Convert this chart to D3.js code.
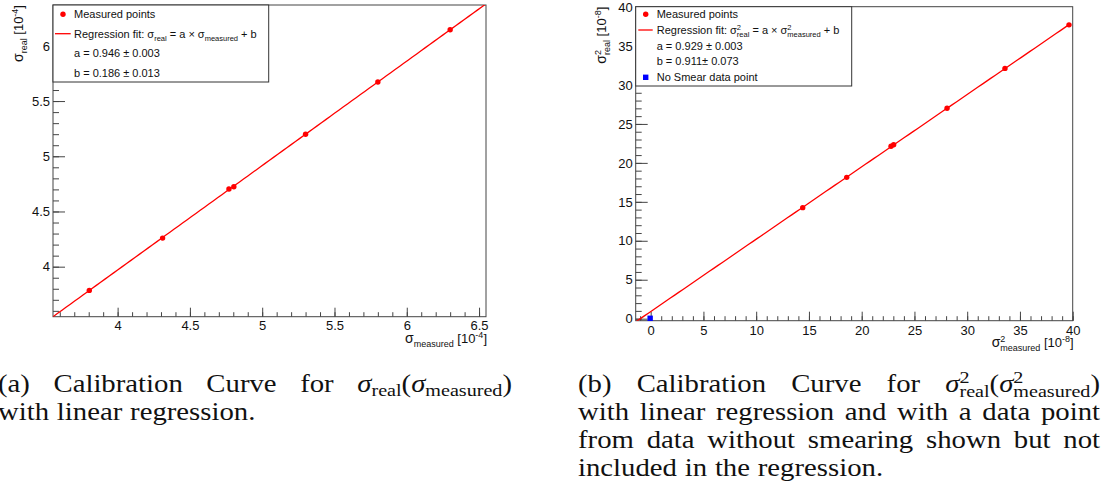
<!DOCTYPE html>
<html>
<head>
<meta charset="utf-8">
<script src="https://cdn.jsdelivr.net/npm/d3@7"></script>
<style>
  html, body { margin: 0; padding: 0; background: #fff; }
  svg { display: block; }
  svg text { white-space: pre; }
  .panel text { font-family: "Liberation Sans", Arial, sans-serif; fill: #111; }
  .caption text { font-family: "Liberation Serif", "Times New Roman", serif; fill: #111; }
</style>
</head>
<body>
<svg id="fig" width="1103" height="498"></svg>
<script>
// ---- data: sigma calibration (units 1e-4) ----
const SIGMA_MEASURED = [3.804, 4.311, 4.770, 4.804, 5.300, 5.800, 6.300];
const SIGMA_REAL     = [3.785, 4.259, 4.703, 4.724, 5.199, 5.672, 6.146];
const SIGMA_FIT      = [0.946, 0.186];           // a, b
const SIGMA_X_TICKS  = [4, 4.5, 5, 5.5, 6, 6.5];
const SIGMA_Y_TICKS  = [4, 4.5, 5, 5.5, 6];

// ---- data: sigma^2 calibration (units 1e-8) ----
const SIGMA2_MEASURED = [14.41, 18.58, 22.78, 23.03, 28.09, 33.58, 39.65];
const SIGMA2_REAL     = [14.25, 18.14, 22.14, 22.33, 27.01, 32.13, 37.72];
const SIGMA2_FIT      = [0.929, 0.911];          // a, b
const NOSMEAR_MEASURED = [-0.05];
const NOSMEAR_REAL     = [0.05];
const SIGMA2_TICKS    = [0, 5, 10, 15, 20, 25, 30, 35, 40];

const svg = d3.select("#fig");

// Lay out a run of text segments (sub/superscripts, stacked indices) inside g.
// Returns the total advance width.
function rich(g, segs) {
  let x = 0, prevStart = 0;
  segs.forEach(s => {
    const start = s.stack ? prevStart : x;
    const t = g.append("text")
      .attr("x", start)
      .attr("y", s.dy || 0)
      .style("font-size", s.size + "px")
      .text(s.t);
    if (s.italic) t.style("font-style", "italic");
    const w = t.node().getComputedTextLength();
    prevStart = start;
    x = Math.max(start + w, x);
  });
  return x;
}

function drawPanel(cfg) {
  const g = svg.append("g").attr("class", "panel");
  const x = d3.scaleLinear().domain(cfg.xDomain).range([cfg.left, cfg.right]);
  const y = d3.scaleLinear().domain(cfg.yDomain).range([cfg.bottom, cfg.top]);

  const clipId = "clip-" + cfg.id;
  g.append("clipPath").attr("id", clipId)
    .append("rect")
    .attr("x", cfg.left).attr("y", cfg.top)
    .attr("width", cfg.right - cfg.left).attr("height", cfg.bottom - cfg.top);

  // minor ticks
  g.append("g").attr("transform", `translate(0,${cfg.bottom})`)
    .call(d3.axisBottom(x).tickValues(cfg.xMinor).tickSize(-4.5).tickFormat(""))
    .call(a => a.select(".domain").remove())
    .call(a => a.selectAll("line").attr("stroke", "#444"));
  g.append("g").attr("transform", `translate(${cfg.left},0)`)
    .call(d3.axisLeft(y).tickValues(cfg.yMinor).tickSize(-6).tickFormat(""))
    .call(a => a.select(".domain").remove())
    .call(a => a.selectAll("line").attr("stroke", "#444"));

  // major ticks with labels
  g.append("g").attr("transform", `translate(0,${cfg.bottom})`)
    .call(d3.axisBottom(x).tickValues(cfg.xTicks).tickSize(-9).tickPadding(cfg.xPad).tickFormat(d => String(d)))
    .call(a => a.select(".domain").remove())
    .call(a => a.selectAll("line").attr("stroke", "#444"))
    .call(a => a.selectAll("text").attr("fill", "#111")
      .style("font-size", "13px").style("font-family", "Liberation Sans, Arial, sans-serif"));
  g.append("g").attr("transform", `translate(${cfg.left},0)`)
    .call(d3.axisLeft(y).tickValues(cfg.yTicks).tickSize(-12).tickPadding(3).tickFormat(d => String(d)))
    .call(a => a.select(".domain").remove())
    .call(a => a.selectAll("line").attr("stroke", "#444"))
    .call(a => a.selectAll("text").attr("fill", "#111")
      .style("font-size", "13px").style("font-family", "Liberation Sans, Arial, sans-serif"));

  // frame
  g.append("rect")
    .attr("x", cfg.left).attr("y", cfg.top)
    .attr("width", cfg.right - cfg.left).attr("height", cfg.bottom - cfg.top)
    .attr("fill", "none").attr("stroke", "#444").attr("stroke-width", 1);

  // regression line
  const [a, b] = cfg.fit;
  const fx = d3.range(0, 101).map(i => cfg.fitRange[0] + (cfg.fitRange[1] - cfg.fitRange[0]) * i / 100);
  g.append("path")
    .attr("clip-path", `url(#${clipId})`)
    .attr("d", d3.line().x(d => x(d)).y(d => y(a * d + b))(fx))
    .attr("fill", "none").attr("stroke", "#ff0000").attr("stroke-width", 1.3);

  // measured points
  g.append("g").selectAll("circle")
    .data(cfg.px.map((v, i) => [v, cfg.py[i]]))
    .join("circle")
    .attr("cx", d => x(d[0])).attr("cy", d => y(d[1]))
    .attr("r", 2.7).attr("fill", "#ff0000");

  // extra points (not fitted)
  if (cfg.qx) {
    g.append("g").selectAll("rect")
      .data(cfg.qx.map((v, i) => [v, cfg.qy[i]]))
      .join("rect")
      .attr("x", d => x(d[0]) - 2.7).attr("y", d => y(d[1]) - 2.7)
      .attr("width", 5.4).attr("height", 5.4).attr("fill", "#0000ff");
  }

  // axis titles
  const xt = g.append("g");
  const xtInner = xt.append("g");
  const wx = rich(xtInner, cfg.xTitle);
  xt.attr("transform", `translate(${cfg.right - wx + 1},${cfg.bottom + 26.5})`);

  const yt = g.append("g").attr("transform", `translate(${cfg.yTitleX},${cfg.top}) rotate(-90)`);
  const ytInner = yt.append("g");
  const wy = rich(ytInner, cfg.yTitle);
  ytInner.attr("transform", `translate(${-wy},0)`);

  // legend
  const L = cfg.legend;
  const lg = g.append("g");
  lg.append("rect")
    .attr("x", L.x0).attr("y", L.y0).attr("width", L.x1 - L.x0).attr("height", L.y1 - L.y0)
    .attr("fill", "#fff").attr("stroke", "#333").attr("stroke-width", 1);
  L.rows.forEach(r => {
    if (r.mark === "circle") {
      lg.append("circle").attr("cx", L.markX).attr("cy", r.cy).attr("r", 2.7).attr("fill", "#ff0000");
    } else if (r.mark === "line") {
      lg.append("line").attr("x1", L.lineX[0]).attr("x2", L.lineX[1])
        .attr("y1", r.cy).attr("y2", r.cy).attr("stroke", "#ff0000").attr("stroke-width", 1.3);
    } else if (r.mark === "square") {
      lg.append("rect").attr("x", L.markX - 2.7).attr("y", r.cy - 2.7)
        .attr("width", 5.4).attr("height", 5.4).attr("fill", "#0000ff");
    }
    const row = lg.append("g").attr("transform", `translate(${L.textX},${r.cy + 4})`);
    rich(row, r.segs);
  });
}

const T = (t, size = 11) => ({ t, size });
const SUB = (t, size = 7.5, dy = 3) => ({ t, size, dy });
const SUP = (t, size = 7.5, dy = -4) => ({ t, size, dy });
const STK = (t, size = 7.5, dy = 3) => ({ t, size, dy, stack: true });

// ---- panel (a) ----
drawPanel({
  id: "a",
  left: 53, right: 486, top: 5, bottom: 316.7,
  xDomain: [3.553, 6.548], yDomain: [3.547, 6.37],
  xTicks: SIGMA_X_TICKS, yTicks: SIGMA_Y_TICKS,
  xMinor: d3.range(36, 66).map(v => v / 10), yMinor: d3.range(36, 64).map(v => v / 10),
  xPad: 4,
  fit: SIGMA_FIT, fitRange: [3.553, 6.548],
  px: SIGMA_MEASURED, py: SIGMA_REAL,
  xTitle: [T("σ", 14), SUB("measured", 9, 4), T(" [10", 13), SUP("-4", 9, -5), T("]", 13)],
  yTitle: [T("σ", 14), SUB("real", 9, 4), T(" [10", 13), SUP("-4", 9, -5), T("]", 13)],
  yTitleX: 23,
  legend: {
    x0: 53, x1: 268.7, y0: 5, y1: 82,
    markX: 63, lineX: [55, 70.7], textX: 74,
    rows: [
      { cy: 14.3, mark: "circle", segs: [T("Measured points")] },
      { cy: 33.7, mark: "line", segs: [T("Regression fit: σ"), SUB("real"), T(" = a × σ"), SUB("measured"), T(" + b")] },
      { cy: 53.3, segs: [T("a = 0.946 ± 0.003")] },
      { cy: 72.7, segs: [T("b = 0.186 ± 0.013")] }
    ]
  }
});

// ---- panel (b) ----
drawPanel({
  id: "b",
  left: 635.7, right: 1072.7, top: 6.7, bottom: 320.7,
  xDomain: [-1.42, 40], yDomain: [-0.26, 40.05],
  xTicks: SIGMA2_TICKS, yTicks: SIGMA2_TICKS,
  xMinor: d3.range(-1, 41), yMinor: d3.range(0, 41),
  xPad: 5,
  fit: SIGMA2_FIT, fitRange: [-1.42, 39.65],
  px: SIGMA2_MEASURED, py: SIGMA2_REAL,
  qx: NOSMEAR_MEASURED, qy: NOSMEAR_REAL,
  xTitle: [T("σ", 14), SUP("2", 9, -5), STK("measured", 9, 4), T(" [10", 13), SUP("-8", 9, -5), T("]", 13)],
  yTitle: [T("σ", 14), SUP("2", 9, -5), STK("real", 9, 4), T(" [10", 13), SUP("-8", 9, -5), T("]", 13)],
  yTitleX: 606,
  legend: {
    x0: 635.7, x1: 851.7, y0: 6.7, y1: 86,
    markX: 645.7, lineX: [638.3, 652.7], textX: 656.7,
    rows: [
      { cy: 14.3, mark: "circle", segs: [T("Measured points")] },
      { cy: 30, mark: "line", segs: [T("Regression fit: σ"), SUP("2"), STK("real"), T(" = a × σ"), SUP("2"), STK("measured"), T(" + b")] },
      { cy: 46, segs: [T("a = 0.929 ± 0.003")] },
      { cy: 61, segs: [T("b = 0.911± 0.073")] },
      { cy: 77.3, mark: "square", segs: [T("No Smear data point")] }
    ]
  }
});

// ---- captions ----
const CAP = 25, CSUB = 17.5, SX = 1.15, LEAD = 28;
const W = t => [{ t, size: CAP }];
const sig = { t: "σ", size: CAP, italic: true };

function captionLine(x0, y, width, words, justify) {
  const line = svg.append("g").attr("class", "caption")
    .attr("transform", `translate(${x0},${y}) scale(${SX},1)`);
  const groups = words.map(w => {
    const wg = line.append("g");
    return { g: wg, w: rich(wg, w) };
  });
  const total = d3.sum(groups, d => d.w);
  const gap = justify ? (width / SX - total) / (groups.length - 1) : CAP * 0.27;
  let cx = 0;
  groups.forEach(d => { d.g.attr("transform", `translate(${cx},0)`); cx += d.w + gap; });
}

captionLine(-2, 392, 514, [W("(a)"), W("Calibration"), W("Curve"), W("for"),
  [sig, { t: "real", size: CSUB, dy: 4 }, { t: "(", size: CAP }, sig,
   { t: "measured", size: CSUB, dy: 4 }, { t: ")", size: CAP }]], true);
captionLine(-2, 392 + LEAD, 0, ["with", "linear", "regression."].map(W), false);

captionLine(578, 392, 522, [W("(b)"), W("Calibration"), W("Curve"), W("for"),
  [sig, { t: "2", size: CSUB, dy: -9 }, { t: "real", size: CSUB, dy: 5, stack: true },
   { t: "(", size: CAP }, sig, { t: "2", size: CSUB, dy: -9 },
   { t: "measured", size: CSUB, dy: 5, stack: true }, { t: ")", size: CAP }]], true);
captionLine(578, 392 + LEAD, 522, "with linear regression and with a data point".split(" ").map(W), true);
captionLine(578, 392 + 2 * LEAD, 522, "from data without smearing shown but not".split(" ").map(W), true);
captionLine(578, 392 + 3 * LEAD, 0, "included in the regression.".split(" ").map(W), false);
</script>
</body>
</html>
